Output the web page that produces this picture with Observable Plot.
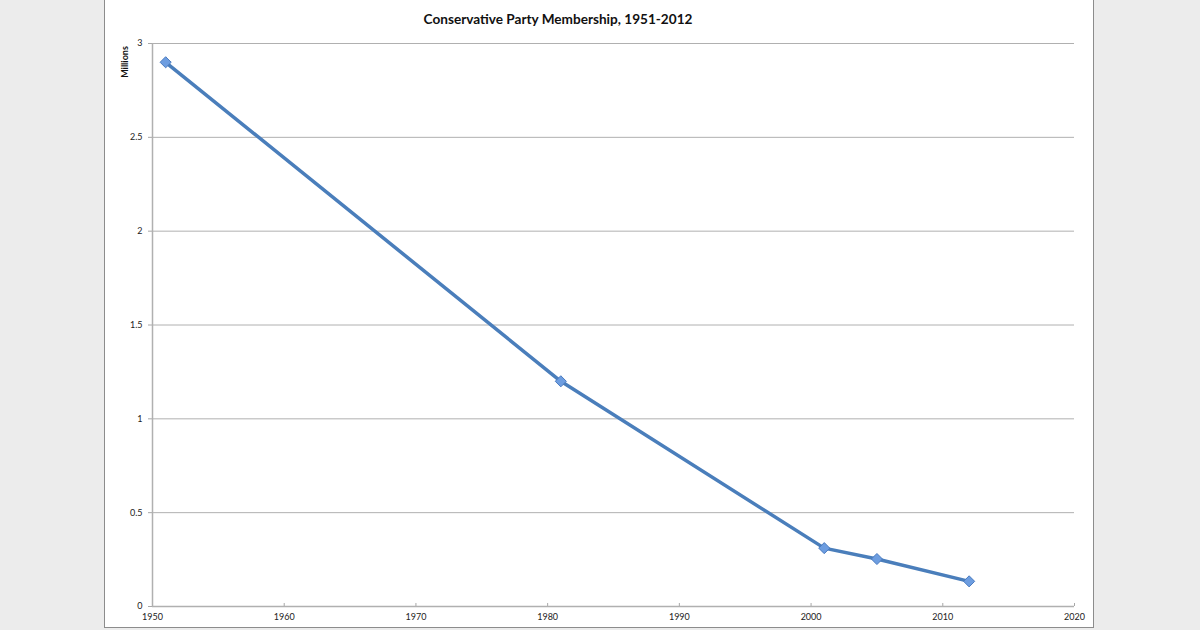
<!DOCTYPE html>
<html>
<head>
<meta charset="utf-8">
<script src="https://cdn.jsdelivr.net/npm/d3@7"></script>
<script src="https://cdn.jsdelivr.net/npm/@observablehq/plot@0.6"></script>
<style>
  html, body { margin: 0; padding: 0; width: 1200px; height: 630px; overflow: hidden; background: #ececec; }
  #panel { position: absolute; left: 104px; top: -1px; width: 990px; height: 629px; background: #fff; border: 1px solid #8c8c8c; box-sizing: border-box; }
  #title { position: absolute; top: 11px; left: 358px; width: 400px; text-align: center; font: bold 13.6px Lato, "Open Sans", sans-serif; color: #111; }
  #ylabel { position: absolute; left: 124px; top: 62px; transform: translate(-50%, -50%) rotate(-90deg); font: bold 9px Lato, sans-serif; color: #111; white-space: nowrap; }
  #chart { position: absolute; left: 0; top: 0; }
</style>
</head>
<body>
<div id="panel"></div>
<div id="title">Conservative Party Membership, 1951-2012</div>
<div id="ylabel">Millions</div>
<div id="chart"></div>
<script>
const years = [1951, 1981, 2001, 2005, 2012];
const members = [2.9, 1.2, 0.311, 0.253, 0.134];
const xTicks = [1950, 1960, 1970, 1980, 1990, 2000, 2010, 2020];
const yTicks = [0, 0.5, 1, 1.5, 2, 2.5, 3];

const data = years.map((y, i) => ({year: y, value: members[i]}));

const chart = Plot.plot({
  width: 1200,
  height: 630,
  marginLeft: 152,
  marginRight: 126,
  marginTop: 43,
  marginBottom: 24,
  style: {background: "transparent", fontFamily: "Lato, sans-serif", fontSize: "9px", color: "#222"},
  x: {domain: [1950, 2020]},
  y: {domain: [0, 3]},
  marks: [
    Plot.gridY(yTicks, {stroke: "#b0b0b0", strokeOpacity: 1, strokeWidth: 1}),
    Plot.axisY(yTicks, {tickSize: 4, tickPadding: 6, stroke: "#a8a8a8", label: null, tickFormat: d => String(d)}),
    Plot.axisX(xTicks, {tickSize: 0, tickPadding: 7, label: null, tickFormat: d => String(d)}),
    Plot.ruleX(xTicks, {x: d => d, y1: 0, y2: 0.016, stroke: "#a8a8a8"}),
    Plot.ruleY([0], {stroke: "#b0b0b0", strokeWidth: 1.5}),
    Plot.ruleX([1950], {stroke: "#b0b0b0", strokeWidth: 1.5}),
    Plot.line(data, {x: "year", y: "value", stroke: "#4a7ebb", strokeWidth: 3.5, strokeLinejoin: "round"}),
    Plot.dot(data, {x: "year", y: "value", symbol: "diamond2", r: 5, fill: "#6d9de0", stroke: "#4a7bc0", strokeWidth: 1})
  ]
});
document.getElementById("chart").appendChild(chart);
</script>
</body>
</html>
